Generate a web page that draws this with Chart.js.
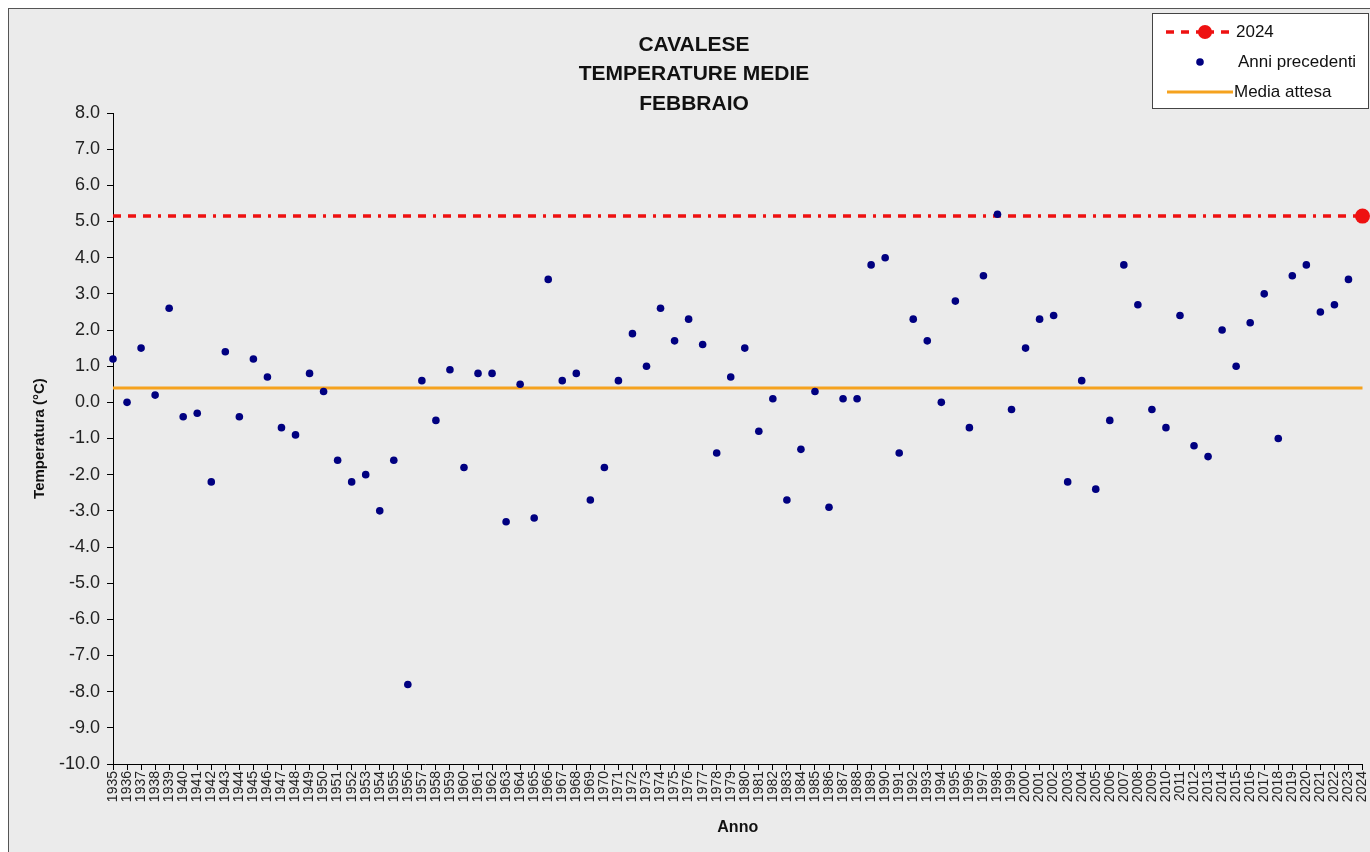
<!DOCTYPE html>
<html lang="it">
<head>
<meta charset="UTF-8">
<title>Cavalese - Temperature medie febbraio</title>
<script src="https://cdn.jsdelivr.net/npm/chart.js@4.4.1/dist/chart.umd.min.js"></script>
<style>
    html, body { margin: 0; padding: 0; background: #fff; overflow: hidden; }
    #wrap { width: 1370px; height: 852px; }
</style>
</head>
<body>
<div id="wrap"><canvas id="chart" width="1370" height="852"></canvas></div>
<script>
    // anni 1935 - 2024
    const firstYear = 1935;
    const lastYear = 2024;
    const years = [];
    for (let y = firstYear; y <= lastYear; y++) years.push(String(y));

    // temperature medie di febbraio 1935-2023 (°C)
    const anniPrecedenti = [
        1.2, 0.0, 1.5, 0.2, 2.6, -0.4, -0.3, -2.2, 1.4, -0.4,   // 1935-1944
        1.2, 0.7, -0.7, -0.9, 0.8, 0.3, -1.6, -2.2, -2.0, -3.0, // 1945-1954
        -1.6, -7.8, 0.6, -0.5, 0.9, -1.8, 0.8, 0.8, -3.3, 0.5,  // 1955-1964
        -3.2, 3.4, 0.6, 0.8, -2.7, -1.8, 0.6, 1.9, 1.0, 2.6,    // 1965-1974
        1.7, 2.3, 1.6, -1.4, 0.7, 1.5, -0.8, 0.1, -2.7, -1.3,   // 1975-1984
        0.3, -2.9, 0.1, 0.1, 3.8, 4.0, -1.4, 2.3, 1.7, 0.0,     // 1985-1994
        2.8, -0.7, 3.5, 5.2, -0.2, 1.5, 2.3, 2.4, -2.2, 0.6,    // 1995-2004
        -2.4, -0.5, 3.8, 2.7, -0.2, -0.7, 2.4, -1.2, -1.5, 2.0, // 2005-2014
        1.0, 2.2, 3.0, -1.0, 3.5, 3.8, 2.5, 2.7, 3.4            // 2015-2023
    ];
    const val2024 = 5.15;
    const mediaAttesa = 0.4;

    const yTicksMin = -10;
    const yTicksMax = 8;

    const font = '"Liberation Sans", Arial, sans-serif';
    const redDash = [8, 7, 8, 7, 8, 7, 3, 7];

    const linea2024 = years.map(() => val2024);
    const lineaMedia = years.map(() => mediaAttesa);
    const punti = years.map((_, i) => i < anniPrecedenti.length ? anniPrecedenti[i] : null);
    const raggi2024 = years.map((_, i) => i === years.length - 1 ? 7.5 : 0);

    const backgroundPlugin = {
        id: 'sfondo',
        beforeDraw(chart) {
            const c = chart.ctx;
            c.save();
            c.fillStyle = '#ffffff';
            c.fillRect(0, 0, chart.width, chart.height);
            c.fillStyle = '#ebebeb';
            c.fillRect(8, 8, chart.width, chart.height);
            c.strokeStyle = '#555';
            c.lineWidth = 1;
            c.strokeRect(8.5, 8.5, chart.width, chart.height);
            c.restore();
        }
    };

    const legendPlugin = {
        id: 'legenda',
        afterDraw(chart) {
            const c = chart.ctx;
            const ds = chart.data.datasets;
            c.save();
            c.fillStyle = '#fff';
            c.fillRect(1152.5, 13.5, 216, 95);
            c.strokeStyle = '#444';
            c.lineWidth = 1;
            c.strokeRect(1152.5, 13.5, 216, 95);

            // 2024
            c.strokeStyle = '#ee1111';
            c.lineWidth = 3.5;
            c.setLineDash(redDash);
            c.beginPath(); c.moveTo(1166, 32); c.lineTo(1236, 32); c.stroke();
            c.setLineDash([]);
            c.fillStyle = '#ee1111';
            c.beginPath(); c.arc(1205, 32, 7, 0, Math.PI * 2); c.fill();

            // anni precedenti
            c.fillStyle = '#000080';
            c.beginPath(); c.arc(1200, 62, 3.8, 0, Math.PI * 2); c.fill();

            // media attesa
            c.strokeStyle = '#f5a21e';
            c.lineWidth = 3;
            c.beginPath(); c.moveTo(1167, 92); c.lineTo(1233, 92); c.stroke();

            c.fillStyle = '#111';
            c.font = '17px ' + font;
            c.textBaseline = 'middle';
            c.textAlign = 'left';
            c.fillText(ds[0].label, 1236, 32);
            c.fillText(ds[1].label, 1238, 62);
            c.fillText(ds[2].label, 1234, 92);
            c.restore();
        }
    };

    new Chart(document.getElementById('chart'), {
        type: 'line',
        data: {
            labels: years,
            datasets: [{
                label: '2024',
                data: linea2024,
                borderColor: '#ee1111',
                backgroundColor: '#ee1111',
                borderWidth: 3.5,
                borderDash: redDash,
                pointRadius: raggi2024,
                pointBorderWidth: 0,
                clip: false,
                order: 1
            }, {
                label: 'Anni precedenti',
                data: punti,
                showLine: false,
                pointRadius: 3.8,
                pointBorderWidth: 0,
                pointBackgroundColor: '#000080',
                borderColor: '#000080',
                order: 0
            }, {
                label: 'Media attesa',
                data: lineaMedia,
                borderColor: '#f5a21e',
                borderWidth: 3,
                pointRadius: 0,
                order: 2
            }]
        },
        options: {
            responsive: false,
            animation: false,
            layout: { padding: { left: 25, right: 7, top: 0, bottom: 0 } },
            plugins: {
                legend: { display: false },
                tooltip: { enabled: false },
                title: {
                    display: true,
                    text: ['CAVALESE', 'TEMPERATURE MEDIE', 'FEBBRAIO'],
                    color: '#111',
                    font: { family: font, size: 21, weight: 'bold', lineHeight: 1.405 },
                    padding: { top: 30, bottom: -5.5 }
                }
            },
            scales: {
                x: {
                    offset: false,
                    grid: { drawOnChartArea: false, drawTicks: true, tickLength: 6, color: '#000' },
                    border: { display: true, color: '#000', width: 1 },
                    ticks: {
                        autoSkip: false,
                        minRotation: 90,
                        maxRotation: 90,
                        padding: 1,
                        color: '#222',
                        font: { family: font, size: 14 }
                    },
                    title: {
                        display: true,
                        text: 'Anno',
                        color: '#111',
                        font: { family: font, size: 16, weight: 'bold', lineHeight: 1.2 },
                        padding: { top: 2, bottom: 14.4 }
                    },
                    afterFit(scale) {
                        scale.height = 88;
                        scale.paddingLeft = 0;
                        scale.paddingRight = 0;
                    }
                },
                y: {
                    min: yTicksMin,
                    max: yTicksMax,
                    grid: { drawOnChartArea: false, drawTicks: true, tickLength: 6, color: '#000' },
                    border: { display: true, color: '#000', width: 1 },
                    ticks: {
                        stepSize: 1,
                        padding: 7,
                        color: '#222',
                        font: { family: font, size: 18 },
                        callback: v => Number(v).toFixed(1)
                    },
                    title: {
                        display: true,
                        text: 'Temperatura (°C)',
                        color: '#111',
                        font: { family: font, size: 15, weight: 'bold', lineHeight: 1.2 },
                        padding: { top: 6, bottom: 0 }
                    },
                    afterFit(scale) { scale.width = 88; }
                }
            }
        },
        plugins: [backgroundPlugin, legendPlugin]
    });
</script>
</body>
</html>
